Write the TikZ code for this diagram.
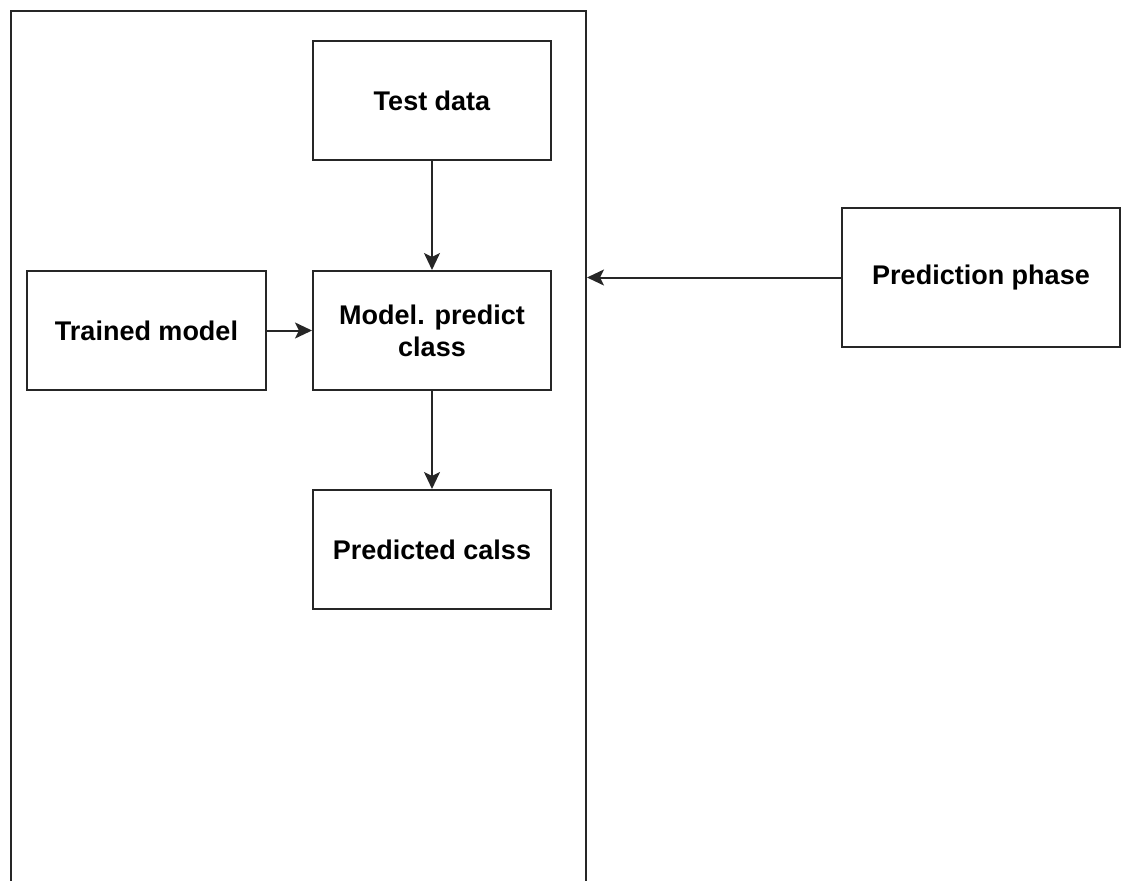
\documentclass[tikz,border=0pt]{standalone}
\usepackage{fontspec}
\setmainfont{Liberation Sans}
\usetikzlibrary{arrows.meta}
\begin{document}
\begin{tikzpicture}[x=1pt,y=-1pt,
  stepbox/.style={draw=black!85, line width=2pt, fill=white, inner sep=0pt,
    minimum width=238pt, minimum height=119pt, align=center,
    font=\fontsize{27}{32}\selectfont\bfseries},
  link/.style={draw=black!85, line width=2pt,
    -{Stealth[length=17pt,width=16pt,inset=4pt]}}]
\useasboundingbox (0,0) rectangle (1123,880);
% phase frame, open past the lower edge of the page
\node[draw=black!85, line width=2pt, minimum width=575pt, minimum height=900pt,
  inner sep=0pt, anchor=north west] (frame) at (10,10) {};
\node[stepbox] (test) at (432,100.5) {Test data};
\node[stepbox] (model) at (432,330.5) {Model. predict\\class};
\node[stepbox, minimum width=239pt] (trained) at (146.5,330.5) {Trained model};
\node[stepbox] (pred) at (432,549.5) {Predicted calss};
\node[stepbox, minimum width=278pt, minimum height=139pt] (phase) at (981,277.5) {Prediction phase};
\draw[link] (test) -- (model);
\draw[link] (trained) -- (model);
\draw[link] (model) -- (pred);
\draw[link] (phase.west) -- (frame.east |- phase.west);
\end{tikzpicture}
\end{document}
